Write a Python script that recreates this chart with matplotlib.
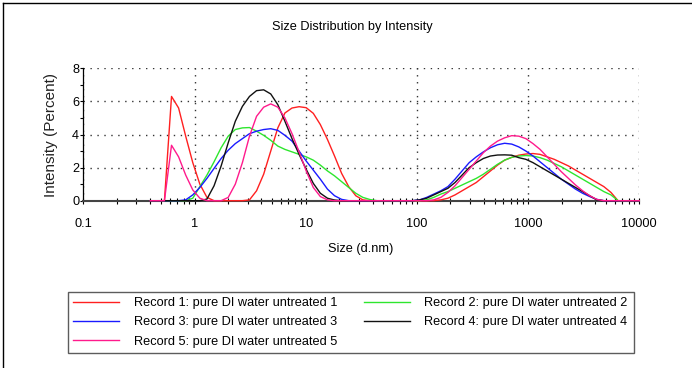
import matplotlib.pyplot as plt
from matplotlib.lines import Line2D

# size classes (d.nm) of the instrument
sizes = [0.4, 0.4632, 0.5365, 0.6213, 0.7195, 0.8332, 0.9649, 1.117, 1.294, 1.499,
         1.736, 2.010, 2.328, 2.696, 3.122, 3.615, 4.187, 4.849, 5.615, 6.503,
         7.531, 8.721, 10.10, 11.70, 13.54, 15.69, 18.17, 21.04, 24.36, 28.21,
         32.67, 37.84, 43.82, 50.75, 58.77, 68.06, 78.82, 91.28, 105.7, 122.4,
         141.8, 164.2, 190.1, 220.2, 255.0, 295.3, 342.0, 396.1, 458.7, 531.2,
         615.1, 712.4, 825.0, 955.4, 1106, 1281, 1484, 1718, 1990, 2305,
         2669, 3091, 3580, 4145, 4801, 5560, 6439, 7456, 8635, 10000]

rec1 = [0, 0, 0, 6.3, 5.6, 3.9, 2.3, 1.0, 0.2, 0,
        0, 0, 0, 0, 0.05, 0.6, 1.6, 3.0, 4.4, 5.3,
        5.6, 5.68, 5.62, 5.28, 4.6, 3.7, 2.7, 1.65, 0.85, 0.3,
        0.05, 0, 0, 0, 0, 0, 0, 0, 0, 0,
        0, 0.05, 0.15, 0.35, 0.6, 0.85, 1.1, 1.45, 1.8, 2.15,
        2.45, 2.62, 2.75, 2.82, 2.85, 2.8, 2.65, 2.5, 2.3, 2.1,
        1.85, 1.6, 1.35, 1.1, 0.85, 0.5, 0, 0, 0, 0]

rec2 = [0, 0, 0, 0, 0, 0, 0.15, 0.85, 1.55, 2.35,
        3.2, 3.9, 4.3, 4.4, 4.42, 4.2, 3.95, 3.65, 3.3, 3.1,
        2.95, 2.8, 2.65, 2.45, 2.15, 1.8, 1.5, 1.15, 0.8, 0.45,
        0.2, 0.07, 0, 0, 0, 0, 0, 0, 0, 0.05,
        0.2, 0.4, 0.55, 0.75, 0.95, 1.15, 1.35, 1.6, 1.9, 2.2,
        2.45, 2.62, 2.7, 2.73, 2.7, 2.6, 2.45, 2.25, 2.05, 1.8,
        1.55, 1.3, 1.05, 0.8, 0.55, 0.35, 0, 0, 0, 0]

rec3 = [0, 0, 0, 0, 0, 0.05, 0.35, 0.8, 1.35, 1.95,
        2.55, 3.05, 3.45, 3.75, 4.05, 4.2, 4.3, 4.35, 4.25, 3.95,
        3.6, 3.0, 2.4, 1.85, 1.3, 0.7, 0.3, 0.08, 0, 0,
        0, 0, 0, 0, 0, 0, 0, 0, 0.05, 0.2,
        0.4, 0.6, 0.85, 1.3, 1.8, 2.3, 2.65, 2.95, 3.2, 3.38,
        3.47, 3.42, 3.25, 3.0, 2.7, 2.35, 2.0, 1.65, 1.3, 1.0,
        0.7, 0.45, 0.25, 0.08, 0, 0, 0, 0, 0, 0]

rec4 = [0, 0, 0, 0, 0, 0, 0, 0, 0.1, 0.9,
        2.1, 3.5, 4.8, 5.7, 6.3, 6.65, 6.7, 6.45, 5.8, 4.8,
        3.75, 2.8, 1.9, 1.05, 0.45, 0.15, 0.04, 0, 0, 0,
        0, 0, 0, 0, 0, 0, 0, 0, 0.05, 0.15,
        0.35, 0.55, 0.75, 1.1, 1.55, 2.0, 2.3, 2.55, 2.7, 2.76,
        2.77, 2.75, 2.6, 2.5, 2.3, 2.05, 1.8, 1.55, 1.3, 1.05,
        0.8, 0.55, 0.3, 0.05, 0, 0, 0, 0, 0, 0]

rec5 = [0, 0, 0, 3.35, 2.65, 1.55, 0.65, 0.15, 0, 0,
        0, 0.2, 1.0, 2.3, 3.9, 5.1, 5.65, 5.85, 5.65, 5.0,
        4.05, 2.95, 1.8, 0.8, 0.25, 0.05, 0, 0, 0, 0,
        0, 0, 0, 0, 0, 0, 0, 0, 0, 0,
        0.05, 0.2, 0.5, 0.9, 1.4, 1.9, 2.4, 2.9, 3.3, 3.6,
        3.8, 3.93, 3.9, 3.75, 3.45, 3.1, 2.65, 2.2, 1.75, 1.35,
        0.95, 0.6, 0.3, 0.08, 0, 0, 0, 0, 0, 0]

labels = ['Record 1: pure DI water untreated 1',
          'Record 2: pure DI water untreated 2',
          'Record 3: pure DI water untreated 3',
          'Record 4: pure DI water untreated 4',
          'Record 5: pure DI water untreated 5']
colors = ['#ff2020', '#2ee62e', '#1a1aff', '#111111', '#ff1a8c']
series = [rec1, rec2, rec3, rec4, rec5]

xticks = [0.1, 1, 10, 100, 1000, 10000]
xticklabels = ['0.1', '1', '10', '100', '1000', '10000']
yticks = [0, 2, 4, 6, 8]

plt.rcParams['font.family'] = ['Liberation Sans', 'DejaVu Sans']
fs = 9.2

W, H = 692, 368
fig = plt.figure(figsize=(W / 100, H / 100), dpi=100)
ax = fig.add_axes([83.3 / W, 1 - 200.7 / H, (639.3 - 83.3) / W, (200.7 - 68.3) / H])

lines = []
for vals, c, lab in zip(series, colors, labels):
    ln, = ax.plot(sizes, vals, color=c, lw=1.0, label=lab, zorder=3, clip_on=False)
    lines.append(ln)

ax.set_xscale('log')
ax.set_xlim(0.1, 10000)
ax.set_ylim(0, 8)
ax.set_xticks(xticks)
ax.set_xticklabels(xticklabels, fontsize=fs)
ax.set_yticks(yticks)
ax.set_yticks([1, 3, 5, 7], minor=True)
ax.tick_params(axis='y', which='both', direction='out', length=2.5, width=0.8, pad=0.5, labelsize=fs)
ax.tick_params(axis='x', which='both', direction='inout', length=4, width=0.8, pad=10.5, labelsize=fs)
ax.grid(True, which='major', linestyle=(0, (1, 4)), color='#333333', lw=1.0)

for s in ['top', 'right']:
    ax.spines[s].set_visible(False)
ax.spines['left'].set_linewidth(0.9)
ax.spines['bottom'].set_linewidth(1.5)
ax.spines['bottom'].set_color('#444444')

ax.set_ylabel('Intensity (Percent)', fontsize=11, color='#222222')
ax.yaxis.set_label_coords((58 - 83.3) / (639.3 - 83.3), 0.5)

fig.text(352 / W, 1 - 27 / H, 'Size Distribution by Intensity', ha='center', va='center', fontsize=fs)
fig.text(361 / W, 1 - 249 / H, 'Size (d.nm)', ha='center', va='center', fontsize=fs)

# outer frame (top and left edges only)
fig.add_artist(Line2D([3.3 / W, 1], [1 - 2.7 / H, 1 - 2.7 / H], transform=fig.transFigure, color='black', lw=1.0))
fig.add_artist(Line2D([3.3 / W, 3.3 / W], [0, 1 - 2.7 / H], transform=fig.transFigure, color='black', lw=1.0))

order = [0, 2, 4, 1, 3]
leg = fig.legend([lines[i] for i in order], [labels[i] for i in order], ncol=2,
                 loc='upper left', bbox_to_anchor=(67.7 / W, 1 - 291.7 / H),
                 fontsize=fs, frameon=True, fancybox=False, edgecolor='#333333',
                 handlelength=3.6, handletextpad=1.15, columnspacing=2.05,
                 borderpad=0.45, labelspacing=0.55, borderaxespad=0)
leg.get_frame().set_linewidth(1.0)

fig.savefig('out.png', dpi=100)
